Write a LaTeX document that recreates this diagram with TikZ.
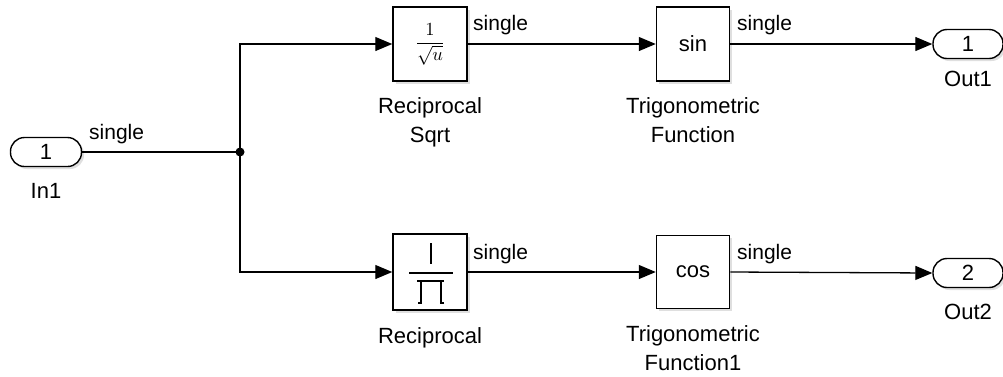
\documentclass[tikz,border=0pt]{standalone}
\usepackage{fontspec}
\usepackage{graphicx}
\setmainfont{Liberation Sans}
\usetikzlibrary{arrows.meta,shadows}
\begin{document}
\begin{tikzpicture}[x=1pt,y=-1pt,
  blk/.style={draw,line width=1.5pt,fill=white,minimum width=74pt,minimum height=74pt,inner sep=0pt,
    drop shadow={shadow xshift=2.5pt,shadow yshift=-2.5pt,opacity=0.25}},
  pill/.style={draw,line width=1.4pt,fill=white,rounded corners=14pt,minimum width=71pt,minimum height=29pt,inner sep=0pt,
    drop shadow={shadow xshift=2.5pt,shadow yshift=-2.5pt,opacity=0.25}},
  lbl/.style={inner sep=0pt,align=center,font=\fontsize{22}{29}\selectfont},
  sig/.style={inner sep=0pt,font=\fontsize{21}{25}\selectfont},
  wire/.style={line width=1.3pt,-{Triangle[length=17pt,width=14pt]}},
  plainwire/.style={line width=1.3pt}]
\useasboundingbox (0,0) rectangle (1003,376);
% blocks
\node[pill,font=\fontsize{22}{26}\selectfont] (in1) at (46,152) {1};
\node[blk] (rsqrt) at (430,44) {\scalebox{1.85}{$\displaystyle\frac{1}{\sqrt{u}}$}};
\node[blk,minimum height=76pt] (recip) at (430,272) {};
\node[blk,minimum width=73pt] (sin) at (693,44) {\fontsize{22}{26}\selectfont sin};
\node[blk,minimum width=73pt,minimum height=73pt] (cos) at (693,272) {\fontsize{22}{26}\selectfont cos};
\node[pill,minimum width=70pt,font=\fontsize{22}{26}\selectfont] (out1) at (968,44) {1};
\node[pill,minimum width=70pt,font=\fontsize{22}{26}\selectfont] (out2) at (968,273) {2};
% reciprocal icon
\draw[line width=1.5pt] (431,243) -- (431,264);
\draw[line width=1.3pt] (409,273) -- (453,273);
\draw[line width=1.5pt] (417,281) -- (444,281);
\draw[line width=1.5pt] (418,303) -- (421,303) -- (421,281);
\draw[line width=1.5pt] (444,303) -- (441,303) -- (441,281);
% labels
\node[lbl,anchor=north] (lin1) at (46,183) {In1};
\node[lbl,anchor=north] (lrsqrt) at (430,97) {Reciprocal\\Sqrt};
\node[lbl,anchor=north] (lrecip) at (430,327) {Reciprocal};
\node[lbl,anchor=north] (lsin) at (693,97) {Trigonometric\\Function};
\node[lbl,anchor=north] (lcos) at (693,325) {Trigonometric\\Function1};
\node[lbl,anchor=north] (lout1) at (968,71) {Out1};
\node[lbl,anchor=north] (lout2) at (968,304) {Out2};
% wires
\coordinate (j) at (240,152);
\draw[plainwire] (in1.east) -- (j);
\fill (j) circle (4.5pt);
\draw[wire] (j) |- (rsqrt.west);
\draw[wire] (j) |- (recip.west);
\draw[wire] (rsqrt.east) -- (sin.west);
\draw[wire] (sin.east) -- (out1.west);
\draw[wire] (recip.east) -- (cos.west);
\draw[wire] (cos.east) -- (out2.west);
% signal labels
\node[sig,anchor=base west] (s1) at (89,139) {single};
\node[sig,anchor=base west] (s2) at (473,30) {single};
\node[sig,anchor=base west] (s3) at (737,30) {single};
\node[sig,anchor=base west] (s4) at (473,259) {single};
\node[sig,anchor=base west] (s5) at (737,259) {single};
\end{tikzpicture}
\end{document}
